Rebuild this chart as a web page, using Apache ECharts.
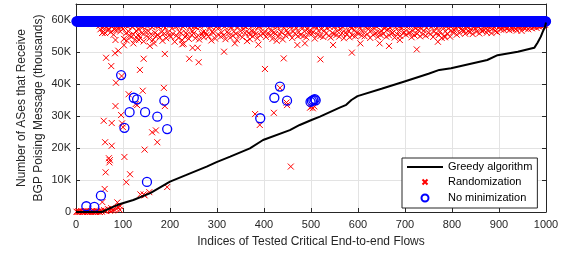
<!DOCTYPE html>
<html>
<head>
<meta charset="utf-8">
<script src="https://cdn.jsdelivr.net/npm/echarts@6/dist/echarts.min.js"></script>
<style>
html, body { margin: 0; padding: 0; background: #fff; }
#container { width: 569px; height: 254px; }
</style>
</head>
<body>
<div id="container"></div>
<script>
// values in thousands of ASes, x = index of tested flow
var greedyIdx = [0, 55, 59, 80, 94, 122, 158, 200, 235, 278, 299, 328, 370, 398, 455, 476, 501, 519, 561, 575, 586, 599, 650, 699, 750, 773, 798, 875, 897, 940, 975, 982, 989, 993, 998, 1000];
var greedyVal = [0, 0, 0.6, 1.7, 2.5, 3.75, 5.9, 9.5, 11.6, 14.2, 15.6, 17.3, 19.9, 22.5, 25.6, 27.2, 28.75, 29.8, 32.6, 33.5, 35.0, 36.2, 38.5, 40.8, 43.2, 44.4, 44.9, 47.5, 49.0, 50.1, 51.3, 52.9, 54.8, 56.3, 57.9, 59.2];

// randomization: dense band near the top, one value every 2 flows from index 50
var randBandStart = 50;
var randBandStep = 2;
var randBandVals = [
  58.2, 57.1, 58.8, 56.0, 57.6, 58.4, 55.9, 57.8, 58.9, 56.7, 57.3, 58.6, 56.2, 57.9, 58.3, 55.4, 57.0, 58.7, 56.9, 58.1, 57.5, 59.0, 56.4, 57.7, 58.5,
  57.2, 54.1, 58.4, 55.8, 53.6, 58.0, 56.4, 55.1, 58.7, 54.7, 57.9, 55.5, 58.3, 53.9, 56.6, 58.8, 55.3, 57.1, 54.5, 58.2, 55.9, 57.8, 53.3, 58.6, 56.3,
  55.0, 58.1, 56.5, 54.2, 58.9, 55.6, 57.7, 53.8, 58.4, 56.0, 54.9, 58.2, 55.4, 57.9, 54.6, 58.7, 56.2, 53.5, 58.0, 55.8, 57.6, 54.3, 58.5, 56.1, 55.2,
  58.3, 54.8, 57.4, 55.7, 58.8, 53.2, 57.9, 55.1, 58.1, 54.4, 56.3, 58.6, 55.9, 53.7, 57.8, 58.4, 54.7, 56.0, 55.5, 58.9, 54.1, 57.6, 58.2, 55.3, 56.5,
  55.8, 58.0, 54.3, 57.7, 58.5, 55.2, 53.9, 57.9, 58.7, 55.6, 56.2, 54.6, 58.3, 56.0, 55.4, 58.8, 54.9, 57.5, 58.1, 53.6, 56.3, 55.9, 58.6, 54.2, 57.8,
  58.2, 55.5, 57.6, 58.9, 54.8, 56.1, 58.4, 55.2, 57.9, 54.0, 58.6, 56.3, 55.8, 58.0, 54.5, 57.7, 58.8, 55.1, 56.4, 58.3, 55.7, 53.8, 57.8, 58.5, 55.3,
  56.5, 58.7, 54.6, 57.2, 58.1, 55.9, 57.8, 53.4, 58.4, 56.0, 55.4, 58.9, 56.6, 54.9, 58.2, 56.3, 55.6, 58.6, 54.3, 57.9, 58.0, 55.2, 56.4, 58.8, 55.8,
  58.3, 56.1, 54.7, 58.6, 55.9, 57.7, 58.9, 55.3, 56.5, 54.1, 58.1, 56.2, 55.7, 58.4, 57.9, 54.8, 58.7, 55.5, 56.3, 58.2, 53.9, 57.6, 58.5, 55.1, 56.8,
  56.0, 58.4, 55.6, 57.9, 58.8, 54.4, 56.4, 58.1, 55.8, 57.6, 58.6, 54.9, 56.2, 58.3, 55.3, 57.8, 58.9, 55.0, 56.5, 58.2, 54.6, 57.1, 58.7, 55.9, 56.7,
  58.5, 55.7, 56.3, 58.0, 54.2, 57.9, 58.6, 55.4, 56.6, 58.3, 55.0, 57.1, 58.8, 54.7, 56.7, 58.2, 55.8, 57.4, 58.9, 55.1, 57.8, 54.5, 58.4, 56.0, 55.6,
  57.9, 58.6, 55.3, 56.5, 58.1, 54.8, 57.2, 58.8, 55.9, 57.7, 54.3, 58.3, 56.1, 55.5, 58.7, 56.6, 54.6, 58.0, 57.3, 55.2, 58.5, 56.8, 54.9, 58.2, 56.0,
  58.4, 55.8, 57.6, 58.9, 55.1, 56.3, 58.2, 54.9, 57.8, 58.6, 55.6, 57.1, 58.0, 54.4, 56.7, 58.7, 55.4, 57.4, 58.3, 55.9, 57.9, 54.7, 58.5, 56.2, 55.3,
  56.6, 58.8, 55.7, 57.3, 58.1, 54.8, 56.9, 58.4, 55.2, 57.5, 58.9, 55.9, 56.0, 58.2, 54.5, 57.8, 58.6, 55.5, 56.4, 58.0, 55.0, 57.7, 58.5, 55.8, 56.2,
  58.3, 55.4, 57.8, 58.7, 55.9, 56.1, 58.0, 54.6, 56.6, 58.9, 55.2, 57.4, 58.4, 55.7, 56.9, 58.1, 54.9, 57.3, 58.6, 55.5, 56.7, 58.2, 55.1, 57.5, 58.8,
  56.0, 58.5, 55.6, 57.8, 58.3, 54.7, 56.4, 58.9, 55.8, 57.6, 58.0, 55.3, 56.2, 58.7, 54.4, 57.9, 58.4, 55.0, 56.5, 58.1, 55.7, 57.3, 58.6, 54.8, 56.7,
  58.2, 56.1, 56.9, 58.6, 57.5, 55.4, 58.0, 57.8, 55.9, 58.8, 57.3, 56.8, 58.4, 56.6, 55.7, 58.1, 57.9, 56.5, 58.7, 56.2, 57.0, 58.3, 55.6, 57.7, 58.5,
  57.4, 56.3, 58.2, 57.8, 55.8, 58.6, 57.1, 56.5, 58.9, 56.8, 57.9, 58.3, 56.0, 56.7, 58.0, 57.6, 58.4, 55.9, 57.3, 58.8, 57.7, 56.5, 58.1, 56.2, 58.5,
  57.8, 58.3, 57.0, 57.5, 58.7, 56.9, 57.9, 58.1, 57.3, 58.6, 57.6, 56.8, 58.2, 57.4, 58.9, 57.1, 57.7, 58.5, 57.2, 56.7, 58.0, 57.8, 58.4, 57.5, 56.6,
  58.1, 57.6, 58.6, 57.3, 57.9, 58.3, 57.1, 58.8, 57.7, 58.2, 57.4, 58.5, 57.8, 58.0, 58.7, 57.5, 58.3, 58.9, 57.9, 58.4, 58.1, 58.6, 58.2, 58.8, 58.5
];
// randomization: flows that reach almost no AS
var randLowIdx = [1, 3, 5, 7, 9, 11, 13, 15, 17, 19, 21, 23, 25, 27, 29, 31, 33, 35, 37, 39, 41, 43, 45, 47, 49, 51, 53, 55, 60, 64, 68, 72, 75, 78, 81, 86, 90, 93];
var randLowVal = [0.1, 0.0, 0.2, 0.1, 0.0, 0.3, 0.1, 0.0, 0.2, 0.1, 0.3, 0.0, 0.1, 0.2, 0.0, 0.1, 0.3, 0.1, 0.0, 0.2, 0.1, 0.0, 0.3, 0.1, 0.2, 0.0, 0.4, 0.1, 0.6, 0.3, 0.9, 0.4, 1.2, 0.5, 0.8, 1.0, 1.5, 0.7];
// randomization: scattered values below the band
var randOutIdx = [56, 64, 75, 83, 90, 102, 85, 97, 136, 144, 189, 112, 142, 187, 84, 127, 189, 122, 84, 157, 166, 134, 226, 229, 241, 261, 248,
  130, 59, 76, 96, 98, 100, 162, 170, 173, 62, 76, 146, 103, 70, 71, 72, 63, 115, 107, 61, 56, 88, 137, 144, 146, 156, 194, 94, 73,
  259, 315, 338, 370, 388, 402, 442, 427, 471, 487, 520, 434, 449, 421, 381, 498, 501, 504, 507, 457, 391, 448,
  547, 587, 605, 646, 666, 689, 725, 770, 785];
var randOutVal = [56.0, 48.2, 45.6, 49.6, 50.4, 52.1, 40.4, 42.5, 44.4, 47.9, 49.4, 36.8, 37.9, 38.8, 33.1, 33.75, 33.1, 52.7, 53.75, 51.9, 52.7, 53.75, 52.4, 52.6, 47.9, 46.8, 51.3,
  33.4, 28.5, 27.8, 30.3, 27.7, 26.5, 24.9, 25.5, 21.8, 21.8, 20.7, 19.5, 17.2, 16.8, 15.5, 16.2, 12.4, 11.8, 9.3, 7.2, 3.1, 3.0, 5.5, 5.5, 5.2, 6.2, 7.8, 1.8, 0.7,
  51.3, 50.1, 52.7, 54.0, 52.3, 44.7, 48.0, 53.5, 52.2, 52.7, 47.7, 38.8, 33.4, 31.0, 30.6, 32.6, 32.9, 32.4, 33.0, 14.2, 27.2, 34.2,
  52.2, 49.8, 52.7, 52.7, 51.9, 53.75, 50.8, 53.2, 54.6];

// no minimization: almost every flow reaches ~59.6K ASes, except these
var noMinBand = 59.6;
var noMinCount = 1000;
var noMinOutIdx = [22, 39, 53, 96, 103, 114, 123, 130, 147, 151, 173, 188, 194, 392, 422, 434, 449, 499, 502, 505, 508, 510];
var noMinOutVal = [1.8, 1.6, 5.1, 42.8, 26.3, 31.2, 35.7, 35.2, 31.2, 9.4, 29.8, 34.8, 25.9, 29.3, 35.7, 39.2, 34.8, 34.4, 34.7, 35.0, 35.3, 34.9];

var pairs = function (xs, ys) {
    var res = [];
    for (var i = 0; i < xs.length; i++) res.push([xs[i], ys[i]]);
    return res;
};

var greedyData = pairs(greedyIdx, greedyVal);

var randData = pairs(randLowIdx, randLowVal).concat(pairs(randOutIdx, randOutVal));
for (var i = 0; i < randBandVals.length; i++) {
    randData.push([randBandStart + i * randBandStep, randBandVals[i]]);
}

var noMinData = pairs(noMinOutIdx, noMinOutVal);
for (var k = 1; k <= noMinCount; k++) {
    if (noMinOutIdx.indexOf(k) < 0) noMinData.push([k, noMinBand]);
}

// marker shapes; legend ones carry an empty margin so they stay small in the 12px legend cell
var crossMark = 'path://M0,0L10,10M10,0L0,10';
var crossPath = 'path://M0,0M12,12M3.5,3.5L8.5,8.5M8.5,3.5L3.5,8.5';
var circlePath = 'path://M0,0M12,12M9.5,6A3.5,3.5,0,1,1,2.5,6A3.5,3.5,0,1,1,9.5,6Z';

var axisColor = '#262626';
var gridColor = '#e3e3e3';
var font = 'Liberation Sans';

var dom = document.getElementById('container');
var myChart = echarts.init(dom, null, { renderer: 'canvas' });

var option = {
    animation: false,
    backgroundColor: '#fff',
    textStyle: { fontFamily: font },
    grid: { left: 76, right: 23, top: 4, bottom: 42 },
    legend: {
        orient: 'vertical',
        left: 402,
        top: 158,
        padding: [3, 5, 3, 4],
        itemWidth: 36,
        itemHeight: 12,
        itemGap: 2,
        symbolKeepAspect: true,
        backgroundColor: '#fff',
        borderColor: axisColor,
        borderWidth: 1,
        borderRadius: 0,
        textStyle: { fontFamily: font, fontSize: 11, color: '#000', lineHeight: 12 },
        data: [
            { name: 'Greedy algorithm', itemStyle: { opacity: 0 } },
            { name: 'Randomization', icon: crossPath },
            { name: 'No minimization', icon: circlePath }
        ]
    },
    xAxis: [{
        type: 'value',
        position: 'bottom',
        min: 0,
        max: 1000,
        interval: 100,
        name: 'Indices of Tested Critical End-to-end Flows',
        nameLocation: 'middle',
        nameGap: 24,
        nameTextStyle: { fontFamily: font, fontSize: 12, color: axisColor },
        axisLine: { show: true, lineStyle: { color: axisColor, width: 1 } },
        axisTick: { show: true, inside: true, length: 4, lineStyle: { color: axisColor } },
        axisLabel: {
            color: axisColor, fontSize: 11, margin: 7, fontFamily: font,
            formatter: function (v) { return String(v); }
        },
        splitLine: { show: true, lineStyle: { color: gridColor, width: 1 } }
    }, {
        type: 'value',
        position: 'top',
        min: 0,
        max: 1000,
        interval: 100,
        axisLine: { show: true, onZero: false, lineStyle: { color: axisColor, width: 1 } },
        axisTick: { show: true, inside: true, length: 4, lineStyle: { color: axisColor } },
        axisLabel: { show: false },
        splitLine: { show: false }
    }],
    yAxis: [{
        type: 'value',
        position: 'left',
        min: 0,
        max: 65,
        interval: 10,
        name: 'Number of ASes that Receive\nBGP Poising Message (thousands)',
        nameLocation: 'middle',
        nameRotate: 90,
        nameGap: 29,
        nameMoveOverlap: false,
        nameTextStyle: { fontFamily: font, fontSize: 12, color: axisColor, lineHeight: 17 },
        axisLine: { show: true, lineStyle: { color: axisColor, width: 1 } },
        axisTick: { show: true, inside: true, length: 4, lineStyle: { color: axisColor } },
        axisLabel: {
            color: axisColor, fontSize: 11, margin: 5, fontFamily: font,
            formatter: function (v) {
                if (v === 0) return '0';
                if (v > 60) return '';
                return v + 'K';
            }
        },
        splitLine: { show: true, lineStyle: { color: gridColor, width: 1 } }
    }, {
        type: 'value',
        position: 'right',
        min: 0,
        max: 65,
        interval: 10,
        axisLine: { show: true, onZero: false, lineStyle: { color: axisColor, width: 1 } },
        axisTick: { show: true, inside: true, length: 4, lineStyle: { color: axisColor } },
        axisLabel: { show: false },
        splitLine: { show: false }
    }],
    series: [
        {
            name: 'Randomization',
            type: 'scatter',
            data: randData,
            symbol: crossMark,
            symbolSize: 6,
            itemStyle: { color: '#ff0000', borderColor: '#ff0000', borderWidth: 1, opacity: 1 },
            z: 2
        },
        {
            name: 'No minimization',
            type: 'scatter',
            data: noMinData,
            symbol: 'circle',
            symbolSize: 9,
            itemStyle: { color: 'transparent', borderColor: '#0000ff', borderWidth: 1.3, opacity: 1 },
            z: 3
        },
        {
            name: 'Greedy algorithm',
            type: 'line',
            data: greedyData,
            symbol: 'none',
            lineStyle: { color: '#000', width: 2 },
            itemStyle: { color: '#000' },
            z: 4
        }
    ]
};

myChart.setOption(option, true);
</script>
</body>
</html>
